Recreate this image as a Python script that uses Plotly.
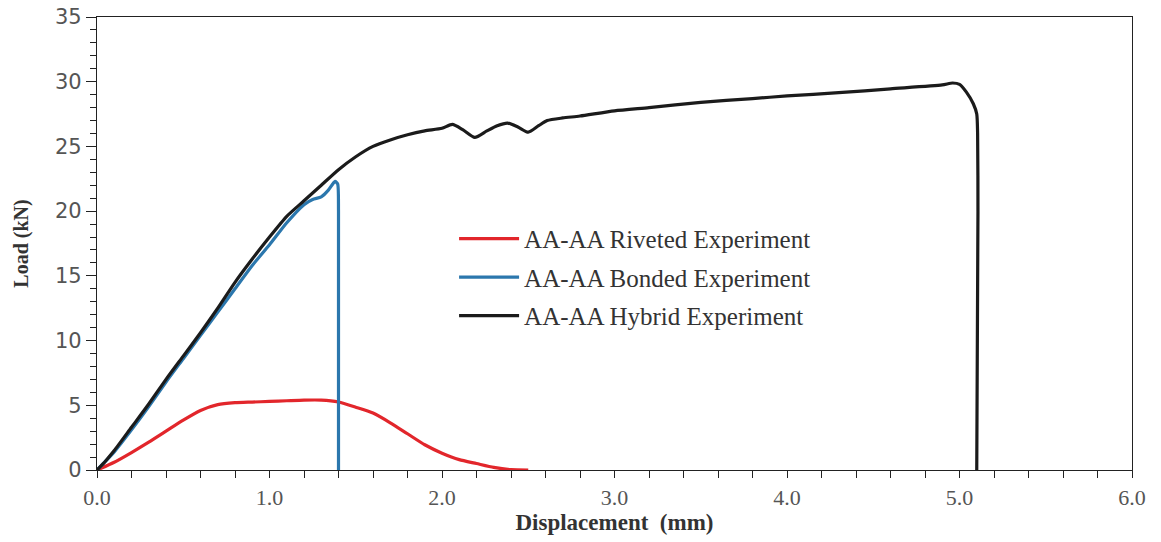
import plotly.graph_objects as go

# ---- data ----
riveted_x = [0, 0.1, 0.2, 0.3, 0.4, 0.5, 0.6, 0.7, 0.8, 0.9, 1.0, 1.1, 1.2, 1.3, 1.4,
             1.5, 1.6, 1.7, 1.8, 1.9, 2.0, 2.1, 2.2, 2.3, 2.4, 2.5]
riveted_y = [0, 0.6, 1.35, 2.15, 3.0, 3.85, 4.6, 5.05, 5.2, 5.25, 5.3, 5.35, 5.4, 5.4, 5.25,
             4.85, 4.4, 3.65, 2.8, 1.95, 1.3, 0.8, 0.5, 0.2, 0.03, 0.0]

bonded_x = [0, 0.1, 0.2, 0.3, 0.4, 0.5, 0.6, 0.7, 0.8, 0.9, 1.0, 1.1, 1.2, 1.25, 1.3,
            1.34, 1.38, 1.395, 1.40, 1.40]
bonded_y = [0, 1.4, 3.1, 4.9, 6.8, 8.6, 10.4, 12.2, 14.0, 15.8, 17.4, 19.1, 20.5, 20.9, 21.1,
            21.6, 22.3, 22.1, 20.0, 0]

hybrid_x = [0, 0.05, 0.1, 0.2, 0.3, 0.4, 0.5, 0.6, 0.7, 0.8, 0.9, 1.0, 1.1, 1.2, 1.3, 1.4,
            1.5, 1.6, 1.7, 1.8, 1.9, 2.0, 2.06, 2.12, 2.19, 2.26, 2.32, 2.38, 2.44, 2.5,
            2.56, 2.61, 2.7, 2.8, 3.0, 3.2, 3.5, 3.8, 4.0, 4.3, 4.6, 4.9, 4.96, 5.0, 5.04,
            5.08, 5.1, 5.105, 5.107, 5.10]
hybrid_y = [0, 0.7, 1.5, 3.3, 5.1, 7.0, 8.8, 10.6, 12.5, 14.5, 16.3, 18.0, 19.6, 20.8, 22.0, 23.2,
            24.2, 25.0, 25.5, 25.9, 26.2, 26.4, 26.7, 26.3, 25.7, 26.2, 26.6, 26.8, 26.5, 26.1,
            26.6, 27.0, 27.2, 27.35, 27.75, 28.0, 28.4, 28.7, 28.9, 29.15, 29.45, 29.75, 29.9, 29.8, 29.2,
            28.3, 27.5, 26.0, 20.0, 0]

series_names = ["AA-AA Riveted Experiment", "AA-AA Bonded Experiment", "AA-AA Hybrid Experiment"]
series_colors = ["#e2262b", "#2b77ad", "#1b1b1b"]

x_ticks = [0, 1, 2, 3, 4, 5, 6]
y_ticks = [0, 5, 10, 15, 20, 25, 30, 35]

fig = go.Figure()
for i, (xs, ys) in enumerate([(riveted_x, riveted_y), (bonded_x, bonded_y), (hybrid_x, hybrid_y)]):
    fig.add_trace(go.Scatter(
        x=xs, y=ys, mode="lines", name=series_names[i],
        line=dict(color=series_colors[i], width=3.2, shape="spline", smoothing=0.6),
        legendgroup=str(i),
    ))

serif = "Liberation Serif"
fig.update_layout(
    width=1161, height=542,
    margin=dict(l=97, r=29, t=17, b=72),
    paper_bgcolor="white", plot_bgcolor="white",
    showlegend=True,
    legend=dict(
        x=0.345, y=0.561, xanchor="left", yanchor="top",
        font=dict(family=serif, size=25, color="#333333"),
        itemwidth=60, tracegroupgap=3, bgcolor="rgba(0,0,0,0)",
    ),
    xaxis=dict(
        range=[0, 6], tickvals=x_ticks, tickformat=".1f", automargin=False,
        ticks="outside", ticklen=7, tickwidth=1, tickcolor="#222",
        showline=True, linecolor="#222", linewidth=1.2, mirror=True,
        showgrid=False, zeroline=False,
        tickfont=dict(family=serif, size=22, color="#555555"),
        minor=dict(dtick=0.2, ticks="outside", ticklen=7, tickcolor="#222", showgrid=False),
        title=dict(text="Displacement\u00a0 (mm)", standoff=5,
                   font=dict(family=serif, size=23, color="#333333", weight="bold")),
    ),
    yaxis=dict(
        range=[0, 35], tickvals=y_ticks, automargin=False,
        ticks="outside", ticklen=10, tickwidth=1, tickcolor="#222",
        showline=True, linecolor="#222", linewidth=1.2, mirror=True,
        showgrid=False, zeroline=False,
        tickfont=dict(family="DejaVu Sans", size=21, color="#555555"),
        minor=dict(dtick=1, ticks="outside", ticklen=6, tickcolor="#222", showgrid=False),
        title=dict(text="Load (kN)", standoff=20,
                   font=dict(family=serif, size=20, color="#333333", weight="bold")),
    ),
)

fig.write_html("out.html")
